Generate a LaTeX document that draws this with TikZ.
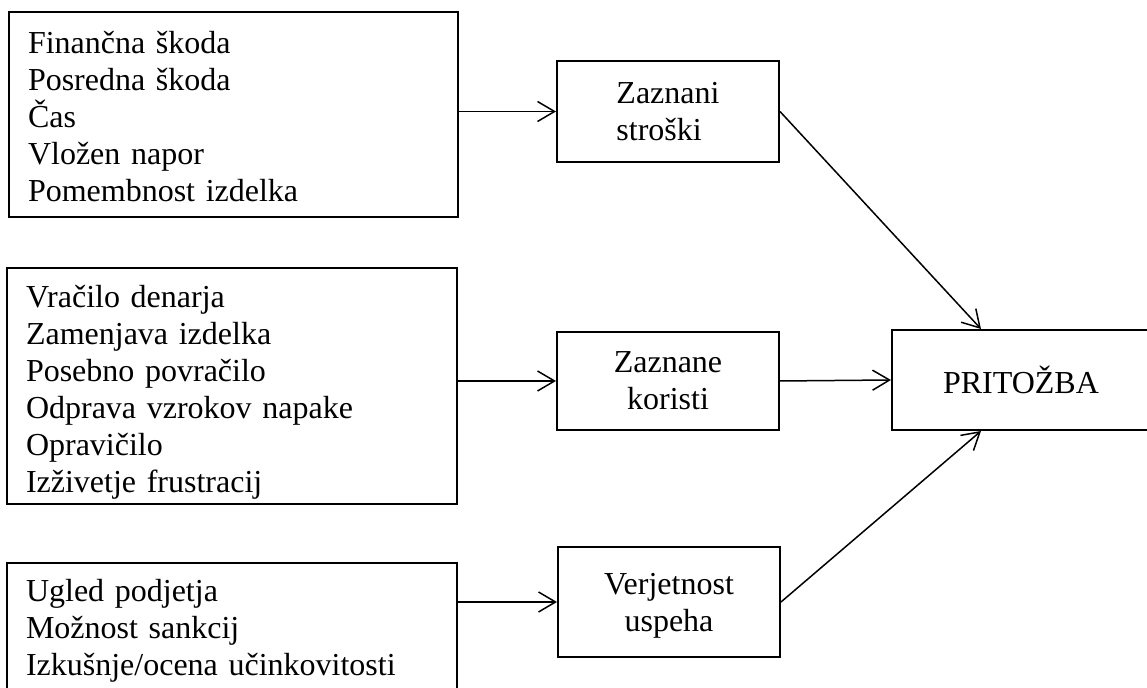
\documentclass[tikz,border=0pt]{standalone}
\usepackage{fontspec}
\setmainfont{Liberation Serif}
\usetikzlibrary{arrows.meta}
\begin{document}
\begin{tikzpicture}[x=0.5pt,y=-0.5pt,
  every node/.style={font=\fontsize{16pt}{18.5pt}\selectfont},
  listbox/.style={draw, line width=1pt, inner xsep=9.5pt, inner ysep=0pt,
    align=left},
  midbox/.style={draw, line width=1pt, minimum width=111pt, inner sep=0pt},
  conn/.style={line width=0.75pt, -{Straight Barb[length=8.5pt,width=10pt,line width=0.75pt]}}]
\useasboundingbox (0,0) rectangle (1147,688);

% factor lists
\node[listbox, text width=205.5pt, minimum height=102.5pt] (costs) at (233.5,114.5)
  {\rule{0pt}{13pt}Finančna škoda\\Posredna škoda\\Čas\\Vložen napor\\Pomembnost izdelka};
\node[listbox, text width=206pt, minimum height=118pt] (benefits) at (232,386)
  {\rule{0pt}{17pt}Vračilo denarja\\Zamenjava izdelka\\Posebno povračilo\\Odprava vzrokov napake\\Opravičilo\\Izživetje frustracij};
\node[listbox, text width=206pt, minimum height=65pt] (success) at (232,628)
  {\rule{0pt}{14pt}Ugled podjetja\\Možnost sankcij\\Izkušnje/ocena učinkovitosti};

% perceived factors
\node[midbox, minimum height=50.5pt, align=left] (zs) at (668,111.5) {Zaznani\\stroški};
\node[midbox, minimum height=49pt, align=center] (zk) at (668,381) {Zaznane\\koristi};
\node[midbox, minimum height=55pt, align=center] (vu) at (669,602) {\rule{0pt}{14pt}Verjetnost\\uspeha};

% outcome
\node[draw, line width=1pt, minimum width=129pt, minimum height=50pt] (pr) at (1021,380) {PRITOŽBA};

% connectors
\draw[conn] (zs.west -| costs.east) -- (zs.west);
\draw[conn] (zk.west -| benefits.east) -- (zk.west);
\draw[conn] (vu.west -| success.east) -- (vu.west);
\draw[conn] (zs.east) -- ([xshift=45pt]pr.north west);
\draw[conn] (zk.east) -- (pr.west);
\draw[conn] (vu.east) -- ([xshift=45pt]pr.south west);
\end{tikzpicture}
\end{document}
